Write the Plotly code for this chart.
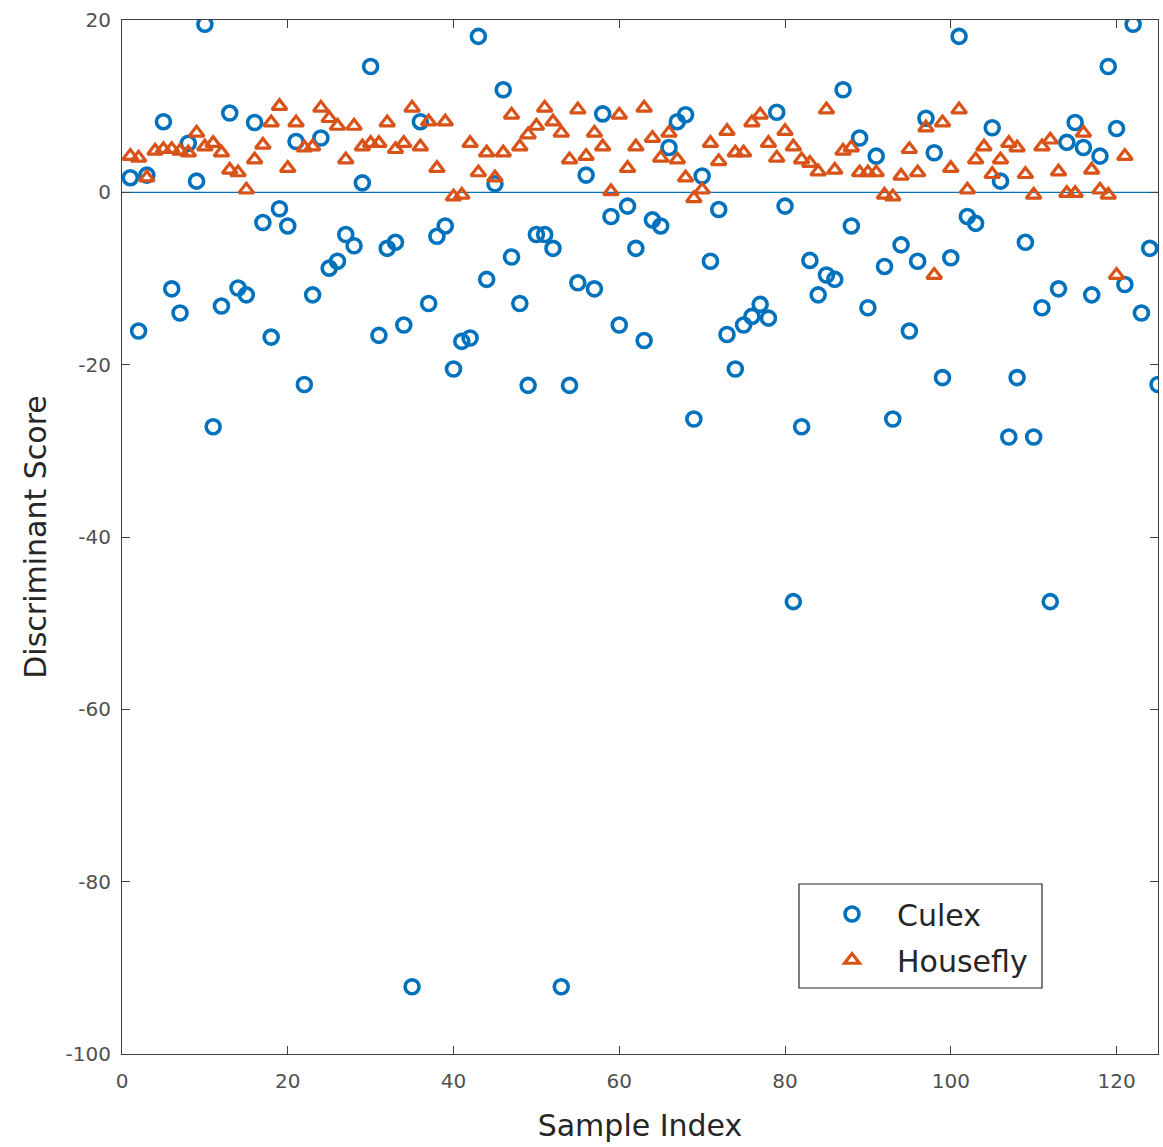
import plotly.graph_objects as go

culex_idx = list(range(1, 126))
culex = [1.7, -16.1, 2.0, None, 8.2, -11.2, -14.0, 5.7, 1.3, 19.5,
         -27.2, -13.2, 9.2, -11.1, -11.9, 8.1, -3.5, -16.8, -1.9, -3.9,
         5.9, -22.3, -11.9, 6.3, -8.8, -8.0, -4.9, -6.2, 1.1, 14.6,
         -16.6, -6.5, -5.8, -15.4, -92.2, 8.2, -12.9, -5.1, -3.9, -20.5,
         -17.3, -16.9, 18.1, -10.1, 1.0, 11.9, -7.5, -12.9, -22.4, -4.9,
         -4.9, -6.5, -92.2, -22.4, -10.5, 2.0, -11.2, 9.1, -2.8, -15.4,
         -1.6, -6.5, -17.2, -3.2, -3.9, 5.2, 8.2, 9.0, -26.3, 1.9,
         -8.0, -2.0, -16.5, -20.5, -15.4, -14.4, -13.0, -14.6, 9.3, -1.6,
         -47.5, -27.2, -7.9, -11.9, -9.6, -10.1, 11.9, -3.9, 6.3, -13.4,
         4.2, -8.6, -26.3, -6.1, -16.1, -8.0, 8.6, 4.6, -21.5, -7.6,
         18.1, -2.8, -3.6, None, 7.5, 1.3, -28.4, -21.5, -5.8, -28.4,
         -13.4, -47.5, -11.2, 5.8, 8.1, 5.2, -11.9, 4.2, 14.6, 7.4,
         -10.7, 19.5, -14.0, -6.5, -22.3]

housefly_idx = list(range(1, 122))
housefly = [4.2, 4.0, 1.7, 4.8, 5.0, 5.0, 4.8, 4.6, 6.9, 5.3,
            5.7, 4.6, 2.6, 2.3, 0.3, 3.8, 5.5, 8.1, 10.0, 2.8,
            8.1, 5.2, 5.3, 9.8, 8.6, 7.7, 3.8, 7.7, 5.3, 5.7,
            5.7, 8.1, 5.0, 5.7, 9.8, 5.3, 8.2, 2.8, 8.2, -0.5,
            -0.3, 5.7, 2.3, 4.6, 1.7, 4.6, 9.0, 5.3, 6.7, 7.7,
            9.8, 8.2, 6.9, 3.8, 9.6, 4.2, 6.9, 5.3, 0.1, 9.0,
            2.8, 5.3, 9.8, 6.3, 4.0, 6.9, 3.8, 1.7, -0.7, 0.3,
            5.7, 3.6, 7.1, 4.6, 4.6, 8.1, 9.0, 5.7, 4.0, 7.1,
            5.3, 3.8, 3.4, 2.4, 9.6, 2.6, 4.8, 5.2, 2.3, 2.3,
            2.3, -0.3, -0.5, 1.9, 5.0, 2.3, 7.5, -9.6, 8.1, 2.8,
            9.6, 0.3, 3.8, 5.3, 2.1, 3.8, 5.7, 5.2, 2.1, -0.3,
            5.3, 6.1, 2.4, -0.1, -0.1, 6.9, 2.6, 0.3, -0.3, -9.6,
            4.2]

x_ticks = [0, 20, 40, 60, 80, 100, 120]
y_ticks = [-100, -80, -60, -40, -20, 0, 20]
x_range = [0, 125]
y_range = [-100, 20]

BLUE = "#0072BD"
ORANGE = "#D95319"
FONT = "DejaVu Sans, Liberation Sans, Arial, sans-serif"

fig = go.Figure()
fig.add_trace(go.Scatter(
    x=culex_idx, y=culex, mode="markers", name="Culex", legendgroup="a",
    marker=dict(symbol="circle-open", size=14, color=BLUE, line=dict(width=3.6, color=BLUE)),
))
fig.add_trace(go.Scatter(
    x=housefly_idx, y=housefly, mode="markers", name="Housefly", legendgroup="b",
    marker=dict(symbol="triangle-up-open", size=13, color=ORANGE, line=dict(width=3.2, color=ORANGE)),
))

fig.add_shape(type="line", xref="paper", x0=0, x1=1, yref="y", y0=0, y1=0,
              line=dict(color=BLUE, width=1.1), layer="below")

# legend frame
fig.add_shape(type="rect", xref="paper", yref="paper",
              x0=(799 - 122) / 1036, x1=(1042 - 122) / 1036,
              y0=1 - (988 - 20) / 1034, y1=1 - (884 - 20) / 1034,
              line=dict(color="#262626", width=1.2), fillcolor="white", layer="above")

axis_common = dict(
    showline=True, linecolor="#404040", linewidth=1.2, mirror="ticks",
    ticks="inside", ticklen=8, tickcolor="#404040", tickwidth=1,
    showgrid=False, zeroline=False,
    tickfont=dict(family=FONT, size=20, color="#505050"),
)

fig.update_layout(
    width=1163, height=1147,
    margin=dict(l=122, r=5, t=20, b=93),
    paper_bgcolor="white", plot_bgcolor="white",
    font=dict(family=FONT, color="#262626"),
    xaxis=dict(range=x_range, tickvals=x_ticks, ticktext=[str(v) for v in x_ticks],
               ticklabelstandoff=9,
               title=dict(text="Sample Index", font=dict(family=FONT, size=30, color="#262626"), standoff=22),
               **axis_common),
    yaxis=dict(range=y_range, tickvals=y_ticks, ticktext=[str(v) for v in y_ticks],
               ticklabelstandoff=6,
               title=dict(text="Discriminant Score", font=dict(family=FONT, size=30, color="#262626"), standoff=10),
               **axis_common),
    legend=dict(
        x=(807 - 122) / 1036, y=1 - (888 - 20) / 1034, xanchor="left", yanchor="top",
        bgcolor="rgba(0,0,0,0)", borderwidth=0,
        font=dict(family=FONT, size=30, color="#262626"),
        traceorder="grouped", tracegroupgap=4, itemwidth=80,
    ),
    showlegend=True,
)

fig.write_html("out.html")
